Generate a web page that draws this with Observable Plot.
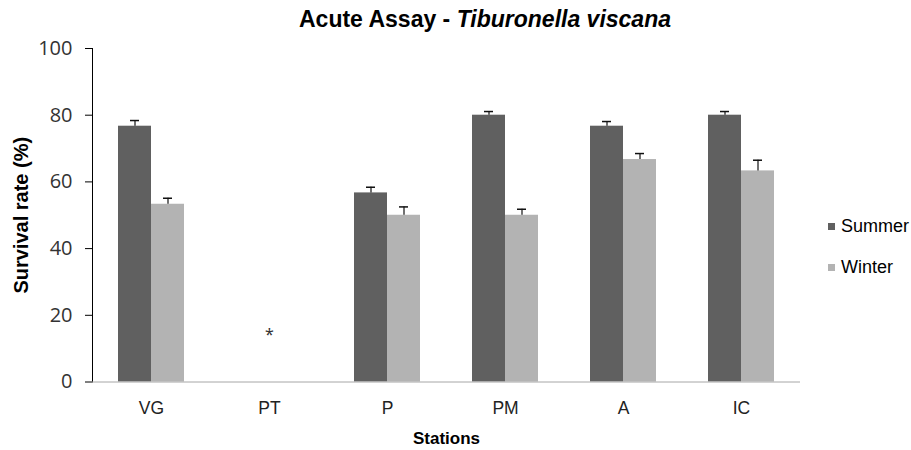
<!DOCTYPE html>
<html>
<head>
<meta charset="utf-8">
<script src="https://cdn.jsdelivr.net/npm/d3@7"></script>
<script src="https://cdn.jsdelivr.net/npm/@observablehq/plot@0.6"></script>
<style>
  body { margin: 0; background: #fff; }
  #wrap { position: relative; width: 911px; height: 450px; font-family: "Liberation Sans", Arial, sans-serif; color: #000; }
  #title { position: absolute; top: 6px; left: 485px; transform: translateX(-50%); white-space: nowrap; font-weight: bold; font-size: 23px; }
  #legend { position: absolute; left: 828px; top: 0; font-size: 18px; }
  .item { position: absolute; left: 0; white-space: nowrap; }
  .sw { position: absolute; left: 0; width: 7px; height: 7px; }
  .lab { position: absolute; left: 13px; line-height: 18px; }
  svg g[aria-label="y-axis tick label"] text { font-family: "Open Sans", sans-serif; font-size: 20px; fill: #333; }
  svg g[aria-label="y-axis tick"], svg g[aria-label="y-axis line"] { stroke: #a6a6a6; }
  svg g[aria-label="fx-axis tick label"] text { font-family: "Liberation Sans", Arial, sans-serif; font-size: 17.5px; fill: #222; }
  svg g[aria-label="fx-axis label"] text { font-family: "Liberation Sans", Arial, sans-serif; font-size: 17px; font-weight: bold; fill: #000; }
  svg g[aria-label="y-axis label"] text { font-family: "Liberation Sans", Arial, sans-serif; font-size: 20px; font-weight: bold; fill: #000; }
</style>
</head>
<body>
<div id="wrap">
  <div id="title">Acute Assay - <i>Tiburonella viscana</i></div>
  <div id="legend"></div>
  <div id="chart"></div>
</div>
<script>
const stations = ["VG", "PT", "P", "PM", "A", "IC"];
const seasons = ["Summer", "Winter"];
const summerValues = [76.7, null, 56.7, 80.0, 76.7, 80.0];
const winterValues = [53.3, null, 50.0, 50.0, 66.7, 63.3];
const summerErrors = [1.7, null, 1.7, 1.1, 1.4, 1.1];
const winterErrors = [1.8, null, 2.5, 1.8, 1.8, 3.2];
const yTicks = [0, 20, 40, 60, 80, 100];
const noteStations = ["PT"];
const noteValues = [14];
const noteTexts = ["*"];
const seasonColors = ["#606060", "#b3b3b3"];

const rows = [];
stations.forEach((s, i) => {
  if (summerValues[i] != null) rows.push({station: s, season: "Summer", value: summerValues[i], err: summerErrors[i]});
  if (winterValues[i] != null) rows.push({station: s, season: "Winter", value: winterValues[i], err: winterErrors[i]});
});
const notes = noteStations.map((s, i) => ({station: s, y: noteValues[i], text: noteTexts[i]}));

const chart = Plot.plot({
  width: 911,
  height: 450,
  marginTop: 48,
  marginBottom: 68.5,
  marginLeft: 91,
  marginRight: 111,
  style: {background: "transparent"},
  fx: {domain: stations, padding: 0, tickSize: 0, tickPadding: 20, label: "Stations", labelAnchor: "center", labelOffset: 62},
  x: {domain: seasons, paddingInner: 0, paddingOuter: 0.74, axis: null},
  y: {domain: [0, 100], ticks: yTicks, tickSize: 7, tickPadding: 13, line: true, grid: false,
      label: "Survival rate (%)", labelAnchor: "center", labelOffset: 79, labelArrow: "none"},
  color: {domain: seasons, range: seasonColors},
  marks: [
    Plot.barY(rows, {fx: "station", x: "season", y: "value", fill: "season"}),
    Plot.ruleX(rows, {fx: "station", x: "season", y1: "value", y2: d => d.value + d.err, stroke: "#111", strokeWidth: 1.2}),
    Plot.tickY(rows, {fx: "station", x: "season", y: d => d.value + d.err, insetLeft: 12, insetRight: 12, stroke: "#111", strokeWidth: 1.5}),
    Plot.text(notes, {fx: "station", y: "y", text: "text", fontSize: 16, fill: "#333"}),
    Plot.ruleY([0], {stroke: "#a6a6a6"})
  ]
});
document.getElementById("chart").appendChild(chart);

const legend = document.getElementById("legend");
const legendTops = [226.5, 267.5];
seasons.forEach((s, i) => {
  const item = document.createElement("div");
  item.className = "item";
  item.style.top = legendTops[i] + "px";
  const sw = document.createElement("div");
  sw.className = "sw";
  sw.style.background = seasonColors[i];
  sw.style.top = "-3.5px";
  const lab = document.createElement("div");
  lab.className = "lab";
  lab.style.top = "-10px";
  lab.textContent = s;
  item.appendChild(sw);
  item.appendChild(lab);
  legend.appendChild(item);
});
</script>
</body>
</html>
